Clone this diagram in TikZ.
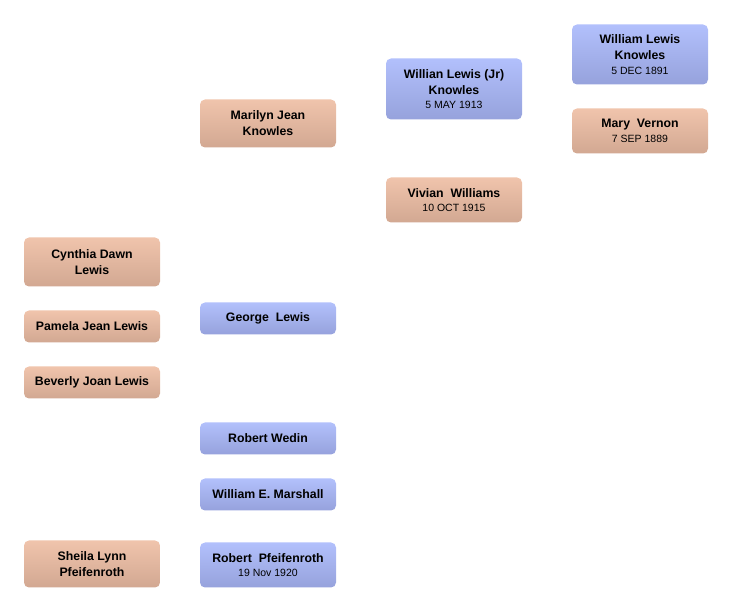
\documentclass[tikz,border=0pt]{standalone}
\usepackage{fontspec}
\setmainfont{Liberation Sans}
\definecolor{maletop}{RGB}{178,192,252}
\definecolor{malebot}{RGB}{150,162,220}
\definecolor{femtop}{RGB}{240,196,172}
\definecolor{fembot}{RGB}{210,168,146}
\tikzset{
  person/.style={rounded corners=5pt, minimum width=136pt, align=center,
    inner sep=2pt, font=\fontsize{12.3}{16}\selectfont\bfseries},
  male/.style={person, top color=maletop, bottom color=malebot},
  female/.style={person, top color=femtop, bottom color=fembot}
}
\newcommand{\born}[1]{\\[-1.5pt]{\fontsize{10.5}{13}\selectfont\mdseries #1}}
\begin{document}
\begin{tikzpicture}[x=1pt, y=-1pt]
    \useasboundingbox (0,0) rectangle (732,612);

    % great grandparents
    \node[male, minimum height=60pt] (wlk) at (640, 54.5) {William Lewis\\Knowles\born{5 DEC 1891}};
    \node[female, minimum height=45pt] (mv) at (640, 131) {Mary\ \ Vernon\born{7 SEP 1889}};

    % grandparents
    \node[male, minimum height=61pt] (wljk) at (454, 89) {Willian Lewis (Jr)\\Knowles\born{5 MAY 1913}};
    \node[female, minimum height=45pt] (vw) at (454, 200) {Vivian\ \ Williams\born{10 OCT 1915}};

    % parents and spouses
    \node[female, minimum height=48pt] (mjk) at (268, 123.5) {Marilyn Jean\\Knowles};
    \node[male, minimum height=32pt] (gl) at (268, 318.5) {George\ \ Lewis};
    \node[male, minimum height=32pt] (rw) at (268, 438.5) {Robert Wedin};
    \node[male, minimum height=32pt] (wem) at (268, 494.5) {William E. Marshall};
    \node[male, minimum height=45pt] (rp) at (268, 565) {Robert\ \ Pfeifenroth\born{19 Nov 1920}};

    % children
    \node[female, minimum height=49pt] (cdl) at (92, 262) {Cynthia Dawn\\Lewis};
    \node[female, minimum height=32pt] (pjl) at (92, 326.5) {Pamela Jean Lewis};
    \node[female, minimum height=32pt] (bjl) at (92, 382.5) {Beverly Joan Lewis};
    \node[female, minimum height=47pt] (slp) at (92, 564) {Sheila Lynn\\Pfeifenroth};
\end{tikzpicture}
\end{document}
